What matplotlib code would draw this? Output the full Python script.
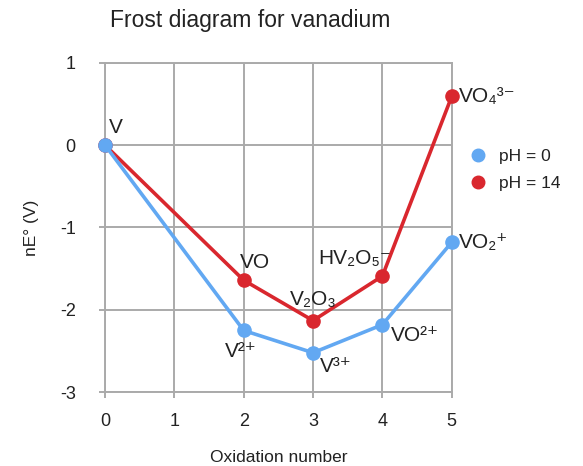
import matplotlib
matplotlib.use("Agg")
import matplotlib.pyplot as plt

plt.rcParams['font.family'] = ['Liberation Sans', 'DejaVu Sans']

ox_ph0 = [0, 2, 3, 4, 5]
ne_ph0 = [0.0, -2.25, -2.52, -2.18, -1.18]
labels_ph0 = ['V', 'V²⁺', 'V³⁺', 'VO²⁺', 'VO₂⁺']

ox_ph14 = [0, 2, 3, 4, 5]
ne_ph14 = [0.0, -1.64, -2.13, -1.59, 0.59]
labels_ph14 = ['V', 'VO', 'V₂O₃', 'HV₂O₅⁻', 'VO₄³⁻']

xticks = [0, 1, 2, 3, 4, 5]
yticks = [1, 0, -1, -2, -3]

blue = '#62a8f2'
red = '#d9272e'
grid = '#aaaaaa'

fig = plt.figure(figsize=(5.83, 4.66), dpi=100)
ax = fig.add_axes([0.1801, 0.1582, 0.5947, 0.7073])

ax.plot(ox_ph14, ne_ph14, '-o', color=red, lw=2.6, ms=9.5, label='pH = 14', zorder=3, clip_on=False)
ax.plot(ox_ph0, ne_ph0, '-o', color=blue, lw=2.6, ms=9.5, label='pH = 0', zorder=4, clip_on=False)

ax.set_xlim(0, 5)
ax.set_ylim(-3, 1)
ax.set_xticks(xticks)
ax.set_yticks(yticks)
ax.set_xticklabels([str(v) for v in xticks])
ax.set_yticklabels([str(v) for v in yticks])
ax.grid(True, color=grid, lw=1.4)
for s in ax.spines.values():
    s.set_color(grid)
    s.set_linewidth(1.4)
ax.tick_params(colors=grid, length=4, width=1.4, labelcolor='#222222', labelsize=13)
ax.tick_params(axis='x', pad=11)
ax.tick_params(axis='y', pad=17)
ax.set_axisbelow(True)

ax.set_xlabel('Oxidation number', fontsize=12.5, color='#222222', labelpad=14)
ax.set_ylabel('nE° (V)', fontsize=12.5, color='#222222', labelpad=15)
fig.text(250 / 583, 1 - 20 / 466, 'Frost diagram for vanadium', fontsize=16.5, color='#222222',
         ha='center', va='center')

fs = 15
tc = '#222222'
def lab(txt, x, y, dx, dy, ha, va):
    ax.annotate(txt, (x, y), xytext=(dx, dy), textcoords='offset points', ha=ha, va=va,
                fontsize=fs, color=tc, annotation_clip=False)

# pH 0 labels
lab(labels_ph0[0], ox_ph0[0], ne_ph0[0], 3, 6, 'left', 'bottom')
lab(labels_ph0[1], ox_ph0[1], ne_ph0[1], -2, -8, 'center', 'top')
lab(labels_ph0[2], ox_ph0[2], ne_ph0[2], 5, -3, 'left', 'top')
lab(labels_ph0[3], ox_ph0[3], ne_ph0[3], 6, -1, 'left', 'top')
lab(labels_ph0[4], ox_ph0[4], ne_ph0[4], 5, 0, 'left', 'center')
# pH 14 labels
lab(labels_ph14[1], ox_ph14[1], ne_ph14[1], 8, 6, 'center', 'bottom')
lab(labels_ph14[2], ox_ph14[2], ne_ph14[2], 0, 8, 'center', 'bottom')
lab(labels_ph14[3], ox_ph14[3], ne_ph14[3], -20, 6, 'center', 'bottom')
lab(labels_ph14[4], ox_ph14[4], ne_ph14[4], 5, 0, 'left', 'center')

h, l = ax.get_legend_handles_labels()
leg = ax.legend(h[::-1], l[::-1], loc='center left', bbox_to_anchor=(1.017, 0.675), frameon=False,
                handlelength=0.6, handletextpad=0.9, labelspacing=0.65, fontsize=12.5, markerscale=0.95)
for line in leg.get_lines():
    line.set_linestyle('None')
for t in leg.get_texts():
    t.set_color(tc)

fig.savefig('out.png', dpi=100)
